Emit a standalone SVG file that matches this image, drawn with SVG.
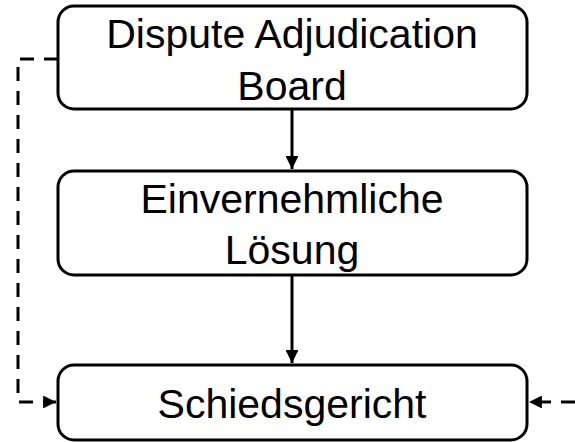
<svg xmlns="http://www.w3.org/2000/svg" width="575" height="442" viewBox="0 0 575 442">
<style>
.box{fill:#fff;stroke:#000;stroke-width:3}
.t{font-family:"Liberation Sans",Arial,sans-serif;font-size:41px;fill:#000;text-anchor:middle}
.c{fill:none;stroke:#000;stroke-width:3}
.d{fill:none;stroke:#000;stroke-width:3;stroke-dasharray:14,10}
</style>
<defs>
<marker id="ah" viewBox="0 0 10 10" refX="10" refY="5" markerWidth="4.3" markerHeight="4.3" orient="auto" markerUnits="strokeWidth"><path d="M0,0L10,5L0,10z" fill="#000"/></marker>
</defs>
<g id="connectors">
<path class="c" d="M292,109V169" marker-end="url(#ah)"/>
<path class="c" d="M292,275V363" marker-end="url(#ah)"/>
<path class="d" d="M58,59H18V402H56" marker-end="url(#ah)"/>
<path class="d" d="M575,402H529" marker-end="url(#ah)"/>
</g>
<g id="n1"><rect class="box" x="58" y="6" width="469" height="103" rx="16"/>
<text class="t" x="292" y="48">Dispute Adjudication</text><text class="t" x="292" y="100">Board</text></g>
<g id="n2"><rect class="box" x="58" y="171" width="469" height="104" rx="16"/>
<text class="t" x="292" y="213">Einvernehmliche</text><text class="t" x="292" y="264">Lösung</text></g>
<g id="n3"><rect class="box" x="58" y="365" width="469" height="75" rx="16"/>
<text class="t" x="292" y="418">Schiedsgericht</text></g>
</svg>
